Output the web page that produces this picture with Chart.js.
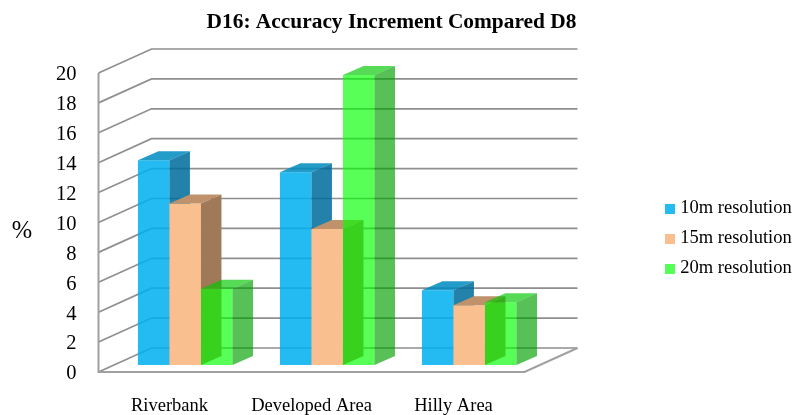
<!DOCTYPE html>
<html>
<head>
<meta charset="utf-8">
<style>
  html, body { margin: 0; padding: 0; background: #fff; }
</style>
<script src="https://cdn.jsdelivr.net/npm/chart.js@4"></script>
</head>
<body>
<canvas id="chart" width="793" height="415"></canvas>
<script>
const categories = ['Riverbank', 'Developed Area', 'Hilly Area'];
const seriesNames = ['10m resolution', '15m resolution', '20m resolution'];
const res10m = [13.7, 12.9, 5];
const res15m = [10.8, 9.1, 4];
const res20m = [5.1, 19.4, 4.2];

const serif = '"Liberation Serif", "Times New Roman", serif';

// face colours, semi transparent like the original so grid lines show through
const fronts = ['rgba(0,176,240,0.86)', '#fabf8f', 'rgba(0,255,0,0.66)'];
const tops = ['rgba(0,140,192,0.86)', '#c0926c', 'rgba(0,200,0,0.66)'];
const sides = ['rgba(0,110,156,0.86)', '#a07a58', 'rgba(0,160,0,0.66)'];
const swatches = ['#24bbf2', '#fabf8f', '#55ff55'];

const wall = { dx: 53, dy: -24 };     // depth of the floor
const barShift = { dx: 15.7, dy: -7 };  // front of the bars against the front plane
const barDepth = { dx: 20.5, dy: -9 };

function swatch(color) {
    const c = document.createElement('canvas');
    c.width = c.height = 10;
    const g = c.getContext('2d');
    g.fillStyle = color;
    g.fillRect(0, 0, 10, 10);
    return c;
}

function polygon(ctx, points, color) {
    ctx.beginPath();
    points.forEach((p, i) => i ? ctx.lineTo(p[0], p[1]) : ctx.moveTo(p[0], p[1]));
    ctx.closePath();
    ctx.fillStyle = color;
    ctx.fill();
}

const box3d = {
    id: 'box3d',
    afterLayout(chart) {
        // title is centred a bit left of the canvas, legend sits lower than chart.js puts it
        chart.titleBlock.right -= 6;
        chart.legend.top += 62;
        chart.legend.right += 4;
    },
    beforeDatasetsDraw(chart) {
        const { ctx, chartArea: a, scales: { y } } = chart;
        ctx.save();
        ctx.strokeStyle = '#8f8f8f';
        ctx.lineWidth = 1.7;
        y.ticks.forEach(t => {
            const py = y.getPixelForValue(t.value);
            ctx.beginPath();
            ctx.moveTo(a.left, py);
            ctx.lineTo(a.left + wall.dx, py + wall.dy);
            ctx.lineTo(a.right + wall.dx, py + wall.dy);
            ctx.stroke();
        });
        ctx.lineWidth = 2;
        ctx.strokeStyle = '#a0a0a0';
        ctx.beginPath();
        ctx.moveTo(a.left, a.top);
        ctx.lineTo(a.left, a.bottom);
        ctx.lineTo(a.right, a.bottom);
        ctx.lineTo(a.right + wall.dx, a.bottom + wall.dy);
        ctx.stroke();
        ctx.restore();
    },
    // chart.js paints the first dataset last, the bars need it the other way round
    beforeDatasetDraw() {
        return false;
    },
    afterDatasetsDraw(chart) {
        const { ctx } = chart;
        chart.data.datasets.forEach((ds, i) => {
            chart.getDatasetMeta(i).data.forEach(bar => {
                const l = bar.x - bar.width / 2 + barShift.dx;
                const r = l + bar.width;
                const t = bar.y + barShift.dy;
                const b = bar.base + barShift.dy;
                ctx.save();
                ctx.translate(barShift.dx, barShift.dy);
                bar.draw(ctx);
                ctx.restore();
                polygon(ctx, [[l, t], [r, t], [r + barDepth.dx, t + barDepth.dy], [l + barDepth.dx, t + barDepth.dy]], tops[i]);
                polygon(ctx, [[r, t], [r + barDepth.dx, t + barDepth.dy], [r + barDepth.dx, b + barDepth.dy], [r, b]], sides[i]);
            });
        });
    },
    afterDraw(chart) {
        const { ctx } = chart;
        ctx.save();
        ctx.font = '24.5px ' + serif;
        ctx.fillStyle = '#000';
        ctx.textAlign = 'center';
        ctx.textBaseline = 'middle';
        ctx.fillText('%', 22, 232);
        ctx.restore();
    }
};

new Chart(document.getElementById('chart'), {
    type: 'bar',
    data: {
        labels: categories,
        datasets: [
            { label: seriesNames[0], data: res10m, backgroundColor: fronts[0] },
            { label: seriesNames[1], data: res15m, backgroundColor: fronts[1] },
            { label: seriesNames[2], data: res20m, backgroundColor: fronts[2] }
        ]
    },
    options: {
        responsive: false,
        animation: false,
        layout: { padding: { right: 4, bottom: 0 } },
        datasets: { bar: { categoryPercentage: 0.666, barPercentage: 1, borderWidth: 0 } },
        plugins: {
            tooltip: { enabled: false },
            title: {
                display: true,
                text: 'D16: Accuracy Increment Compared D8',
                color: '#000',
                font: { family: serif, size: 21.4, weight: 'bold' },
                padding: { top: 9.5, bottom: 37.8 }
            },
            legend: {
                position: 'right',
                labels: {
                    color: '#000',
                    font: { family: serif, size: 18.5 },
                    usePointStyle: true,
                    boxWidth: 2,
                    boxHeight: 10,
                    padding: 11.5,
                    generateLabels: () => seriesNames.map((name, i) => ({
                        text: name,
                        fontColor: '#000',
                        pointStyle: swatch(swatches[i]),
                        datasetIndex: i
                    }))
                }
            }
        },
        scales: {
            x: {
                grid: { display: false },
                border: { display: false },
                ticks: { color: '#000', font: { family: serif, size: 18.5 }, padding: 15, maxRotation: 0 },
                afterFit(scale) { scale.height = 43; }
            },
            y: {
                min: 0,
                max: 20,
                grid: { display: false, drawTicks: false },
                border: { display: false },
                ticks: { stepSize: 2, color: '#000', font: { family: serif, size: 20.5 }, padding: 22, labelOffset: 2 },
                afterFit(scale) { scale.width = 98.5; }
            },
            // keeps the legend away from the plot
            gap: {
                axis: 'y',
                position: 'right',
                grid: { display: false },
                border: { display: false },
                ticks: { display: false },
                afterFit(scale) { scale.width = 133; }
            }
        }
    },
    plugins: [box3d]
});
</script>
</body>
</html>
